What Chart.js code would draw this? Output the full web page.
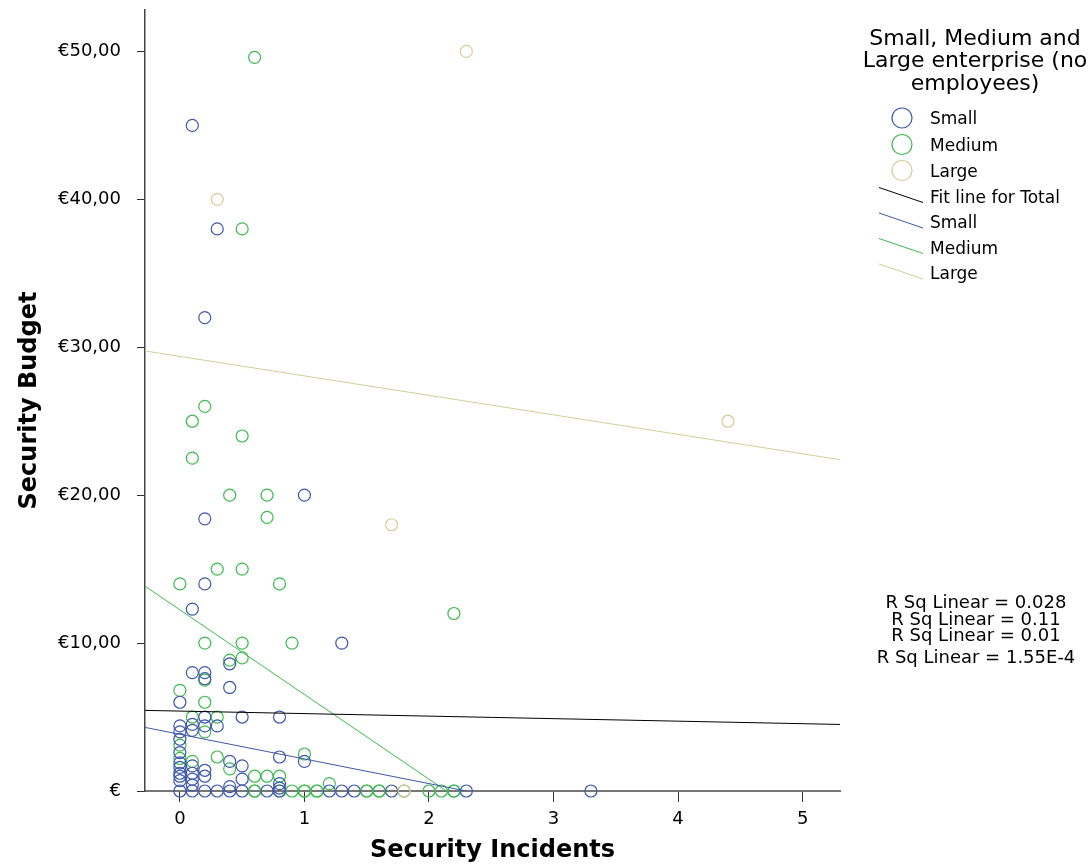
<!DOCTYPE html>
<html>
<head>
<meta charset="utf-8">
<script src="https://cdn.jsdelivr.net/npm/chart.js@4"></script>
<style>
html, body { margin: 0; padding: 0; background: #fff; overflow: hidden; }
#wrap { position: relative; width: 1088px; height: 868px; }
#chart, #overlay { position: absolute; left: 0; top: 0; }
#overlay text { font-family: "DejaVu Sans", sans-serif; fill: #000; }
</style>
</head>
<body>
<div id="wrap">
  <canvas id="chart" width="1088" height="868"></canvas>
  <svg id="overlay" width="1088" height="868"></svg>
</div>
<script>
// values
const smallX = [0.1, 0.3, 0.2, 1.0, 0.2, 0.2, 0.1, 1.3,
    0.1, 0.2, 0.2, 0.4, 0.4, 0, 0.2, 0.5, 0.8,
    0, 0, 0, 0, 0, 0, 0, 0, 0,
    0.1, 0.1, 0.1, 0.1, 0.1, 0.1,
    0.2, 0.2, 0.2, 0.3, 0.4, 0.4, 0.5, 0.5,
    0.8, 0.8, 0.8, 1.0,
    0, 0.1, 0.2, 0.3, 0.4, 0.5, 0.7, 0.8, 1.2, 1.3, 1.4, 1.7, 2.3, 3.3];
const smallY = [45, 38, 32, 20, 18.4, 14, 12.3, 10,
    8, 8, 7.6, 8.6, 7, 6, 5, 5, 5,
    4.4, 4.0, 3.5, 2.6, 1.9, 1.6, 1.2, 1.0, 0.7,
    4.5, 4.1, 1.7, 1.2, 0.8, 0.4,
    4.4, 1.4, 1.0, 4.4, 2.0, 0.3, 1.7, 0.8,
    2.3, 0.5, 0.2, 2.0,
    0, 0, 0, 0, 0, 0, 0, 0, 0, 0, 0, 0, 0, 0];

const mediumX = [0.6, 0.5, 0.2, 0.1, 0.5, 0.1, 0.4, 0.7, 0.7, 0.3,
    0.5, 0, 0.8, 2.2, 0.2, 0.5, 0.9, 0.5, 0.4, 0.2,
    0, 0.2, 0.1, 0.3, 0.2, 0, 0, 0.1, 0.3, 0.4,
    1.0, 0.6, 0.7, 0.8, 1.2,
    0.6, 0.6, 0.8, 0.9, 1.0, 1.0, 1.1, 1.1, 1.5, 1.5, 1.6, 1.6, 1.8, 2.0, 2.1, 2.2, 2.2];
const mediumY = [49.6, 38, 26, 25, 24, 22.5, 20, 20, 18.5, 15,
    15, 14, 14, 12, 10, 10, 10, 9, 8.85, 7.5,
    6.8, 6, 5, 5, 4, 3.1, 2.2, 2, 2.3, 1.5,
    2.5, 1, 1, 1, 0.5,
    0, 0, 0, 0, 0, 0, 0, 0, 0, 0, 0, 0, 0, 0, 0, 0, 0];

const largeX = [2.3, 0.3, 4.4, 1.7, 1.8];
const largeY = [50, 40, 25, 18, 0];

// fit line end points
const totalFitX = [-0.28, 5.3];
const totalFitY = [5.45, 4.5];
const smallFitX = [-0.28, 2.3];
const smallFitY = [4.3, 0];
const mediumFitX = [-0.28, 2.14];
const mediumFitY = [13.85, 0];
const largeFitX = [-0.28, 5.3];
const largeFitY = [29.75, 22.4];

const xTicks = [0, 1, 2, 3, 4, 5];
const yTicks = [0, 10, 20, 30, 40, 50];

const groupLabels = ["Small", "Medium", "Large"];
const fitLabels = ["Fit line for Total", "Small", "Medium", "Large"];
const rSqLabels = ["R Sq Linear = 0.028", "R Sq Linear = 0.11", "R Sq Linear = 0.01", "R Sq Linear = 1.55E-4"];
const legendTitle = ["Small, Medium and", "Large enterprise (no", "employees)"];

const BLUE = "#3E58AC";
const GREEN = "#3DBB4E";
const TAN = "#D3CE97";

function toPoints(xs, ys) {
    return xs.map((x, i) => ({ x: x, y: ys[i] }));
}

function pointSet(label, xs, ys, color) {
    return {
        label: label,
        data: toPoints(xs, ys),
        showLine: false,
        pointRadius: 6,
        pointHoverRadius: 6,
        pointBorderWidth: 1.2,
        pointBorderColor: color,
        pointBackgroundColor: "rgba(0,0,0,0)",
        clip: false
    };
}

function lineSet(label, xs, ys, color) {
    return {
        label: label,
        data: toPoints(xs, ys),
        showLine: true,
        borderColor: color,
        borderWidth: 1,
        pointRadius: 0,
        fill: false,
        tension: 0
    };
}

// keep the plot box where the reference has it
function noPad(s) {
    s.paddingTop = 0;
    s.paddingBottom = 0;
    s.paddingLeft = 0;
    s.paddingRight = 0;
}

Chart.defaults.font.family = "'DejaVu Sans', sans-serif";
Chart.defaults.color = "#000";

new Chart(document.getElementById("chart").getContext("2d"), {
    type: "scatter",
    data: {
        datasets: [
            lineSet("Fit line for Total", totalFitX, totalFitY, "#000"),
            lineSet("Small fit", smallFitX, smallFitY, BLUE),
            lineSet("Medium fit", mediumFitX, mediumFitY, GREEN),
            lineSet("Large fit", largeFitX, largeFitY, TAN),
            pointSet("Large", largeX, largeY, TAN),
            pointSet("Small", smallX, smallY, BLUE),
            pointSet("Medium", mediumX, mediumY, GREEN)
        ]
    },
    options: {
        responsive: false,
        animation: false,
        devicePixelRatio: 1,
        events: [],
        layout: { padding: { left: 0, right: 248, top: 10, bottom: 0 } },
        plugins: { legend: { display: false }, tooltip: { enabled: false } },
        scales: {
            x: {
                type: "linear",
                min: -0.28,
                max: 5.3,
                afterBuildTicks: s => { s.ticks = xTicks.map(v => ({ value: v })); },
                afterFit: s => { s.height = 77; noPad(s); },
                ticks: { font: { size: 18 }, padding: 7, maxRotation: 0, autoSkip: false, callback: v => String(v) },
                grid: { display: true, drawOnChartArea: false, drawTicks: true, tickLength: 11, color: "#333" },
                border: { display: true, color: "#777", width: 2 },
                title: { display: true, text: "Security Incidents", font: { size: 24, weight: "bold" }, padding: { top: 0, bottom: 3 } }
            },
            y: {
                type: "linear",
                min: 0,
                max: 52.8,
                afterBuildTicks: s => { s.ticks = yTicks.map(v => ({ value: v })); },
                afterFit: s => { s.width = 145; noPad(s); },
                ticks: { font: { size: 18 }, padding: 16, autoSkip: false, callback: v => v === 0 ? "€" : "€" + v + ",00" },
                grid: { display: true, drawOnChartArea: false, drawTicks: true, tickLength: 8, color: "#333" },
                border: { display: true, color: "#444", width: 1.5 },
                title: { display: true, text: "Security Budget", font: { size: 24, weight: "bold" }, padding: { top: 15, bottom: 0 } }
            }
        }
    }
});

// legend and R Sq notes as svg text
const svg = document.getElementById("overlay");
const NS = "http://www.w3.org/2000/svg";

function addText(str, x, y, size, anchor) {
    const t = document.createElementNS(NS, "text");
    t.setAttribute("x", x);
    t.setAttribute("y", y);
    t.setAttribute("font-size", size);
    t.setAttribute("text-anchor", anchor || "start");
    t.textContent = str;
    svg.appendChild(t);
}

function addShape(tag, attrs) {
    const el = document.createElementNS(NS, tag);
    for (const k in attrs) el.setAttribute(k, attrs[k]);
    svg.appendChild(el);
}

const titleBase = [45, 67, 90];
legendTitle.forEach((line, i) => addText(line, 975, titleBase[i], 22, "middle"));

const groupColors = [BLUE, GREEN, TAN];
const groupBase = [124, 150.5, 176.5];
groupLabels.forEach((lab, i) => {
    addShape("circle", { cx: 902, cy: groupBase[i] - 6, r: 10, fill: "none", stroke: groupColors[i], "stroke-width": 1.2 });
    addText(lab, 930, groupBase[i], 17);
});

const fitColors = ["#000", BLUE, GREEN, TAN];
const fitBase = [202.5, 228, 253.5, 279];
fitLabels.forEach((lab, i) => {
    addShape("line", { x1: 879, y1: fitBase[i] - 15, x2: 923, y2: fitBase[i], stroke: fitColors[i], "stroke-width": 1 });
    addText(lab, 930, fitBase[i], 17);
});

const rSqBase = [608, 624.5, 641, 663];
rSqLabels.forEach((lab, i) => addText(lab, 976, rSqBase[i], 18, "middle"));
</script>
</body>
</html>
